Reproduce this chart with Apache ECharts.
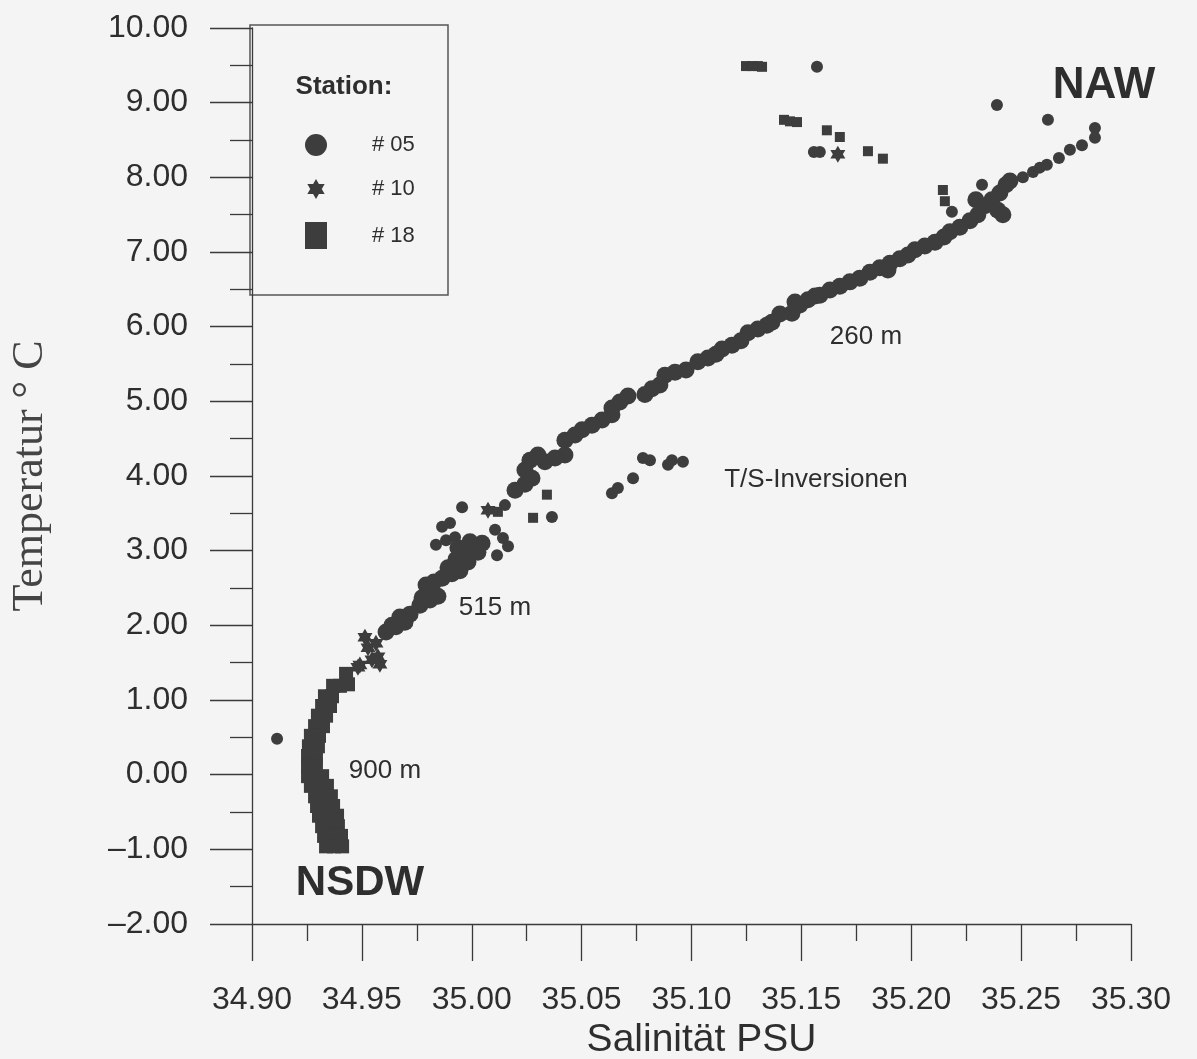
<!DOCTYPE html>
<html>
<head>
<meta charset="utf-8">
<script src="https://cdn.jsdelivr.net/npm/echarts@6/dist/echarts.min.js"></script>
<style>
  html, body { margin: 0; padding: 0; background: #f4f4f4; }
  #chart { width: 1197px; height: 1059px; }
</style>
</head>
<body>
<div id="chart"></div>
<script>
// T/S diagram: salinity (PSU) vs. temperature (°C) for three CTD stations

const stationNames = ['# 05', '# 10', '# 18'];

// station #05, continuous profile – [salinity, temperature]
const station05Profile = [
  [35.2449, 7.95], [35.2431, 7.90], [35.2403, 7.79], [35.2367, 7.70], [35.2335, 7.62],
  [35.2303, 7.50], [35.2294, 7.70], [35.2394, 7.56], [35.2417, 7.50],
  [35.2267, 7.42], [35.2221, 7.33], [35.2176, 7.27], [35.2149, 7.20], [35.2108, 7.13],
  [35.2062, 7.08], [35.2017, 7.03], [35.1985, 6.96], [35.1948, 6.91], [35.1903, 6.85],
  [35.1857, 6.79], [35.1894, 6.76], [35.1812, 6.73], [35.1766, 6.65], [35.1721, 6.60],
  [35.1675, 6.54], [35.1630, 6.49], [35.1584, 6.42], [35.1562, 6.41], [35.1530, 6.36],
  [35.1471, 6.33], [35.1493, 6.29], [35.1457, 6.18], [35.1402, 6.17], [35.1366, 6.06],
  [35.1343, 6.02], [35.1302, 5.97], [35.1257, 5.92], [35.1225, 5.81], [35.1184, 5.75],
  [35.1139, 5.70], [35.1111, 5.63], [35.1075, 5.58], [35.1029, 5.53], [35.0975, 5.42],
  [35.0925, 5.39], [35.0879, 5.35], [35.0856, 5.22], [35.0820, 5.17], [35.0788, 5.09],
  [35.0711, 5.07], [35.0674, 4.99], [35.0638, 4.91], [35.0638, 4.82], [35.0593, 4.75],
  [35.0547, 4.68], [35.0502, 4.62], [35.0470, 4.55], [35.0424, 4.48], [35.0424, 4.28],
  [35.0379, 4.24], [35.0333, 4.19], [35.0301, 4.28], [35.0265, 4.21], [35.0242, 4.08],
  [35.0274, 3.97], [35.0242, 3.89], [35.0197, 3.81],
  // around 515 m
  [34.9928, 2.88], [34.9969, 2.97], [35.0010, 3.04], [35.0047, 3.10], [34.9983, 2.85],
  [34.9865, 2.63], [34.9910, 2.69], [34.9946, 2.73], [34.9792, 2.54], [34.9828, 2.58],
  [34.9764, 2.27], [34.9810, 2.34], [34.9846, 2.39], [34.9673, 2.11], [34.9719, 2.15],
  [34.9610, 1.91], [34.9655, 1.98], [34.9801, 2.47], [34.9774, 2.37], [34.9937, 3.04],
  [34.9992, 3.12], [35.0028, 2.98], [34.9956, 2.81], [34.9892, 2.77], [34.9696, 2.04],
  [34.9637, 2.00]
];

// station #05, single readings
const station05Points = [
  [35.1571, 9.48], [35.2390, 8.97], [35.2622, 8.77], [35.2836, 8.66], [35.2836, 8.53],
  [35.2777, 8.43], [35.2722, 8.37], [35.2672, 8.26], [35.2617, 8.17], [35.2585, 8.13],
  [35.2554, 8.07], [35.2508, 8.00], [35.1557, 8.34], [35.1584, 8.34], [35.2185, 7.54],
  [35.2322, 7.90], [35.0365, 3.45],
  // T/S inversions
  [35.0638, 3.77], [35.0665, 3.84], [35.0734, 3.97], [35.0779, 4.24], [35.0811, 4.21],
  [35.0893, 4.15], [35.0911, 4.21], [35.0961, 4.19],
  [35.0151, 3.61], [35.0106, 3.28], [35.0142, 3.17], [35.0165, 3.06], [35.0115, 2.94],
  [34.9956, 3.58], [34.9865, 3.32], [34.9901, 3.37], [34.9837, 3.08], [34.9883, 3.14],
  [34.9924, 3.18],
  [34.9114, 0.48]
];

// station #10
const station10 = [
  [34.9491, 1.47], [34.9546, 1.54], [34.9528, 1.70], [34.9564, 1.76], [34.9573, 1.58],
  [34.9482, 1.44], [34.9582, 1.48], [34.9514, 1.84],
  [35.0074, 3.54], [35.1666, 8.31]
];

// station #18, single readings
const station18Points = [
  [35.1248, 9.49], [35.1275, 9.49], [35.1302, 9.49], [35.1321, 9.48],
  [35.1421, 8.77], [35.1448, 8.75], [35.1480, 8.74],
  [35.1616, 8.63], [35.1675, 8.54], [35.1803, 8.35], [35.1871, 8.25],
  [35.2144, 7.83], [35.2153, 7.68],
  [35.0342, 3.75], [35.0279, 3.44], [35.0119, 3.52]
];

// station #18, deep water (NSDW)
const station18Deep = [
  [34.9428, 1.35], [34.9437, 1.21],
  [34.9369, 1.19], [34.9400, 1.19],
  [34.9332, 1.05], [34.9364, 1.05],
  [34.9319, 0.92], [34.9355, 0.92],
  [34.9300, 0.79], [34.9337, 0.79],
  [34.9287, 0.65], [34.9323, 0.65],
  [34.9268, 0.52], [34.9305, 0.52],
  [34.9259, 0.38], [34.9300, 0.38],
  [34.9255, 0.25], [34.9291, 0.25],
  [34.9255, 0.12], [34.9291, 0.12],
  [34.9255, -0.02], [34.9291, -0.02], [34.9319, -0.02],
  [34.9268, -0.15], [34.9305, -0.15], [34.9341, -0.15],
  [34.9287, -0.29], [34.9323, -0.29], [34.9359, -0.29],
  [34.9296, -0.42], [34.9332, -0.42], [34.9369, -0.42],
  [34.9305, -0.55], [34.9346, -0.55], [34.9387, -0.55],
  [34.9319, -0.69], [34.9355, -0.69], [34.9391, -0.69],
  [34.9328, -0.82], [34.9369, -0.82], [34.9405, -0.82],
  [34.9337, -0.96], [34.9373, -0.96], [34.9410, -0.96]
];

const salinityRange = [34.90, 35.30];
const temperatureRange = [-2, 10];

const ink = '#3d3d3d';
const textInk = '#2e2e2e';
const sans = 'Liberation Sans, Arial, Helvetica, sans-serif';

// six-pointed star; the padded variant keeps the legend icon smaller than its box
const starPath = 'path://M0,-10 L2.887,-5 L8.66,-5 L5.774,0 L8.66,5 L2.887,5 L0,10 L-2.887,5 L-8.66,5 L-5.774,0 L-8.66,-5 L-2.887,-5 Z';
const starLegend = 'path://M-11,-13 L-11,-13 M11,13 L11,13 M0,-10 L2.887,-5 L8.66,-5 L5.774,0 L8.66,5 L2.887,5 L0,10 L-2.887,5 L-8.66,5 L-5.774,0 L-8.66,-5 L-2.887,-5 Z';

const chart = echarts.init(document.getElementById('chart'), null, { renderer: 'canvas' });

const axisLineStyle = { color: '#3a3a3a', width: 1.3 };

function scatter(name, data, symbol, size) {
  return {
    name, type: 'scatter', data, symbol, symbolSize: size,
    itemStyle: { color: ink, opacity: 1 }, emphasis: { disabled: true }, silent: true
  };
}

chart.setOption({
  backgroundColor: '#f4f4f4',
  animation: false,
  grid: { left: 252, top: 28, width: 879, height: 896, containLabel: false, outerBoundsMode: 'none' },
  xAxis: {
    type: 'value',
    min: salinityRange[0],
    max: salinityRange[1],
    interval: 0.05,
    axisLine: { show: true, onZero: false, lineStyle: axisLineStyle },
    axisTick: { show: true, inside: false, length: 37, lineStyle: axisLineStyle },
    minorTick: { show: true, splitNumber: 2, length: 17, lineStyle: axisLineStyle },
    splitLine: { show: false },
    minorSplitLine: { show: false },
    axisLabel: {
      margin: 60, fontSize: 32, color: textInk, fontFamily: sans,
      showMinLabel: true, showMaxLabel: true, hideOverlap: false,
      formatter: v => v.toFixed(2)
    },
    name: 'Salinität PSU',
    nameLocation: 'middle',
    nameGap: 90,
    nameTextStyle: { fontSize: 39, color: textInk, fontFamily: sans, padding: [0, 0, 0, 20] }
  },
  yAxis: {
    type: 'value',
    min: temperatureRange[0],
    max: temperatureRange[1],
    interval: 1,
    axisLine: { show: true, onZero: false, lineStyle: axisLineStyle },
    axisTick: { show: true, inside: false, length: 42, lineStyle: axisLineStyle },
    minorTick: { show: true, splitNumber: 2, length: 22, lineStyle: axisLineStyle },
    splitLine: { show: false },
    minorSplitLine: { show: false },
    axisLabel: {
      margin: 64, fontSize: 32, color: textInk, fontFamily: sans,
      showMinLabel: true, showMaxLabel: true, hideOverlap: false,
      formatter: v => (v < 0 ? '\u2013' : '') + Math.abs(v).toFixed(2)
    },
    name: 'Temperatur ° C',
    nameLocation: 'middle',
    nameGap: 200,
    nameTextStyle: { fontSize: 44, color: '#444', fontFamily: 'Liberation Serif, Times New Roman, serif' }
  },
  legend: {
    orient: 'vertical',
    left: 305,
    top: 134,
    padding: 0,
    itemWidth: 22,
    itemHeight: 27,
    itemGap: 20,
    selectedMode: false,
    itemStyle: { opacity: 1 },
    data: [
      { name: stationNames[0], icon: 'circle' },
      { name: stationNames[1], icon: starLegend },
      { name: stationNames[2], icon: 'rect' }
    ],
    formatter: name => '{g|}' + name,
    textStyle: { fontSize: 22, color: textInk, fontFamily: sans, rich: { g: { width: 40 } } }
  },
  graphic: [
    { type: 'rect', silent: true, shape: { x: 250, y: 25, width: 198, height: 270 },
      style: { fill: 'none', stroke: '#555', lineWidth: 1.5 } },
    { type: 'text', silent: true, x: 344, y: 87,
      style: { text: 'Station:', font: 'bold 26px ' + sans, fill: textInk, align: 'center', verticalAlign: 'middle' } },
    { type: 'text', silent: true, x: 1104, y: 86,
      style: { text: 'NAW', font: 'bold 44px ' + sans, fill: textInk, align: 'center', verticalAlign: 'middle' } },
    { type: 'text', silent: true, x: 360, y: 883,
      style: { text: 'NSDW', font: 'bold 42px ' + sans, fill: textInk, align: 'center', verticalAlign: 'middle' } },
    { type: 'text', silent: true, x: 866, y: 337,
      style: { text: '260 m', font: '26px ' + sans, fill: textInk, align: 'center', verticalAlign: 'middle' } },
    { type: 'text', silent: true, x: 816, y: 480,
      style: { text: 'T/S-Inversionen', font: '26px ' + sans, fill: textInk, align: 'center', verticalAlign: 'middle' } },
    { type: 'text', silent: true, x: 495, y: 608,
      style: { text: '515 m', font: '26px ' + sans, fill: textInk, align: 'center', verticalAlign: 'middle' } },
    { type: 'text', silent: true, x: 385, y: 771,
      style: { text: '900 m', font: '26px ' + sans, fill: textInk, align: 'center', verticalAlign: 'middle' } }
  ],
  series: [
    scatter(stationNames[0], station05Profile, 'circle', 17),
    scatter(stationNames[0], station05Points, 'circle', 12),
    scatter(stationNames[1], station10, starPath, [15, 17]),
    scatter(stationNames[2], station18Points, 'rect', 10),
    scatter(stationNames[2], station18Deep, 'rect', 14)
  ]
});
</script>
</body>
</html>
